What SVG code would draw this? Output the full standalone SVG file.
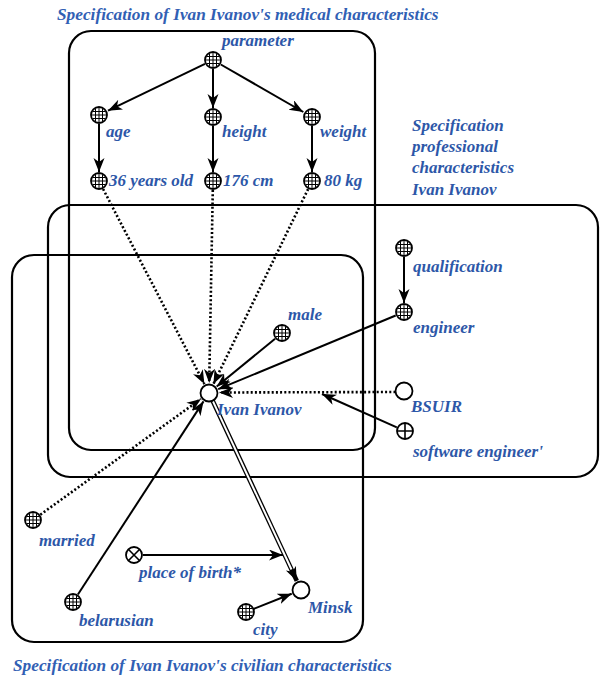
<svg xmlns="http://www.w3.org/2000/svg" xmlns:xlink="http://www.w3.org/1999/xlink" width="600" height="677" viewBox="0 0 600 677">
<style>
.box{fill:none;stroke:#000;stroke-width:2.2}
.lbl{font-family:"Liberation Serif","DejaVu Serif",serif;font-style:italic;font-weight:bold;font-size:17px;fill:#2d57a8}
.ttl{font-family:"Liberation Serif","DejaVu Serif",serif;font-style:italic;font-weight:bold;font-size:17.3px;fill:#3160b4}
.sol{fill:none;stroke:#000;stroke-width:2}
.dot{fill:none;stroke:#000;stroke-width:2.6;stroke-dasharray:2 2.2}
</style>
<defs>
<marker id="ah" markerUnits="userSpaceOnUse" markerWidth="15" markerHeight="12" refX="14" refY="5.5" orient="auto">
<path d="M0,0 L14,5.5 L0,11 L4,5.5 z" fill="#000"/>
</marker>
<g id="gn"><circle r="8" fill="#fff" stroke="#000" stroke-width="1.8"/><path d="M-7.2,0H7.2M0,-7.2V7.2M-6.3,-3.5H6.3M-6.3,3.5H6.3M-3.5,-6.3V6.3M3.5,-6.3V6.3" stroke="#000" stroke-width="1"/></g>
<g id="pn"><circle r="8.5" fill="#fff" stroke="#000" stroke-width="1.8"/></g>
<g id="plus"><circle r="8" fill="#fff" stroke="#000" stroke-width="1.8"/><path d="M-8,0H8M0,-8V8" stroke="#000" stroke-width="1.6"/></g>
<g id="cross"><circle r="8" fill="#fff" stroke="#000" stroke-width="1.8"/><path d="M-5.7,-5.7L5.7,5.7M-5.7,5.7L5.7,-5.7" stroke="#000" stroke-width="1.6"/></g>
</defs>
<rect width="600" height="677" fill="#fff"/>

<g id="boxes">
<rect class="box" x="69" y="31" width="306" height="419" rx="22"/>
<rect class="box" x="48" y="205" width="550" height="272" rx="22"/>
<rect class="box" x="12" y="255" width="351" height="387" rx="22"/>
</g>

<g id="titles">
<text class="ttl" x="57" y="20">Specification of Ivan Ivanov's medical characteristics</text>
<text class="lbl" x="412" y="131">Specification</text>
<text class="lbl" x="412" y="152">professional</text>
<text class="lbl" x="412" y="173">characteristics</text>
<text class="lbl" x="412" y="195">Ivan Ivanov</text>
<text class="ttl" x="13" y="671">Specification of Ivan Ivanov's civilian characteristics</text>
</g>

<g id="connectors">
<line class="sol" x1="205" y1="63.9" x2="108" y2="110.7" marker-end="url(#ah)"/>
<line class="sol" x1="213" y1="69" x2="213" y2="108" marker-end="url(#ah)"/>
<line class="sol" x1="220.8" y1="64.5" x2="303.3" y2="112" marker-end="url(#ah)"/>
<line class="sol" x1="99" y1="124" x2="99" y2="172" marker-end="url(#ah)"/>
<line class="sol" x1="213" y1="126" x2="213" y2="172" marker-end="url(#ah)"/>
<line class="sol" x1="312" y1="126" x2="312" y2="172" marker-end="url(#ah)"/>
<line class="dot" x1="103.1" y1="189" x2="204.4" y2="384.1" marker-end="url(#ah)"/>
<line class="dot" x1="212.8" y1="190" x2="209.2" y2="383" marker-end="url(#ah)"/>
<line class="dot" x1="308.1" y1="189.1" x2="213.4" y2="384" marker-end="url(#ah)"/>
<line class="sol" x1="404" y1="257" x2="404" y2="303" marker-end="url(#ah)"/>
<line class="sol" x1="395.7" y1="315.5" x2="218.2" y2="389.2" marker-end="url(#ah)"/>
<line class="sol" x1="275.1" y1="338.7" x2="216.7" y2="386.6" marker-end="url(#ah)"/>
<line class="dot" x1="395.5" y1="392" x2="219" y2="392.5" marker-end="url(#ah)"/>
<line class="sol" x1="396.8" y1="427.3" x2="322" y2="394" marker-end="url(#ah)"/>
<line class="dot" x1="40.3" y1="514.7" x2="200.9" y2="398.9" marker-end="url(#ah)"/>
<line class="sol" x1="77.9" y1="594.5" x2="203.5" y2="401.4" marker-end="url(#ah)"/>
<line x1="212.4" y1="400.2" x2="296.8" y2="580.9" stroke="#000" stroke-width="4.6" marker-end="url(#ah)"/>
<line x1="212.4" y1="400.2" x2="291.5" y2="569.5" stroke="#fff" stroke-width="2"/>
<line class="sol" x1="143" y1="555" x2="283" y2="555" marker-end="url(#ah)"/>
<line class="sol" x1="253.4" y1="609" x2="291.7" y2="593.7" marker-end="url(#ah)"/>
</g>

<g id="n-parameter"><use xlink:href="#gn" x="213" y="60"/><text class="lbl" x="222" y="46">parameter</text></g>
<g id="n-age"><use xlink:href="#gn" x="99" y="115"/><text class="lbl" x="106" y="137">age</text></g>
<g id="n-height"><use xlink:href="#gn" x="213" y="117"/><text class="lbl" x="222" y="137">height</text></g>
<g id="n-weight"><use xlink:href="#gn" x="312" y="117"/><text class="lbl" x="320" y="137">weight</text></g>
<g id="n-36"><use xlink:href="#gn" x="99" y="181"/><text class="lbl" x="109" y="186">36 years old</text></g>
<g id="n-176"><use xlink:href="#gn" x="213" y="181"/><text class="lbl" x="223" y="186">176 cm</text></g>
<g id="n-80"><use xlink:href="#gn" x="312" y="181"/><text class="lbl" x="324" y="186">80 kg</text></g>
<g id="n-qualification"><use xlink:href="#gn" x="404" y="248"/><text class="lbl" x="413" y="272">qualification</text></g>
<g id="n-engineer"><use xlink:href="#gn" x="404" y="312"/><text class="lbl" x="413" y="333">engineer</text></g>
<g id="n-male"><use xlink:href="#gn" x="282" y="333"/><text class="lbl" x="288" y="320">male</text></g>
<g id="n-ivan"><use xlink:href="#pn" x="209" y="393"/><text class="lbl" x="217" y="415">Ivan Ivanov</text></g>
<g id="n-bsuir"><use xlink:href="#pn" x="404" y="391"/><text class="lbl" x="411" y="412">BSUIR</text></g>
<g id="n-software"><use xlink:href="#plus" x="405" y="431"/><text class="lbl" x="413" y="457">software engineer'</text></g>
<g id="n-married"><use xlink:href="#gn" x="33" y="520"/><text class="lbl" x="39" y="546">married</text></g>
<g id="n-pob"><use xlink:href="#cross" x="134" y="555"/><text class="lbl" x="139" y="578">place of birth*</text></g>
<g id="n-belarusian"><use xlink:href="#gn" x="73" y="602"/><text class="lbl" x="79" y="626">belarusian</text></g>
<g id="n-city"><use xlink:href="#gn" x="246" y="612"/><text class="lbl" x="253" y="635">city</text></g>
<g id="n-minsk"><use xlink:href="#pn" x="301" y="590"/><text class="lbl" x="308" y="613">Minsk</text></g>
</svg>
